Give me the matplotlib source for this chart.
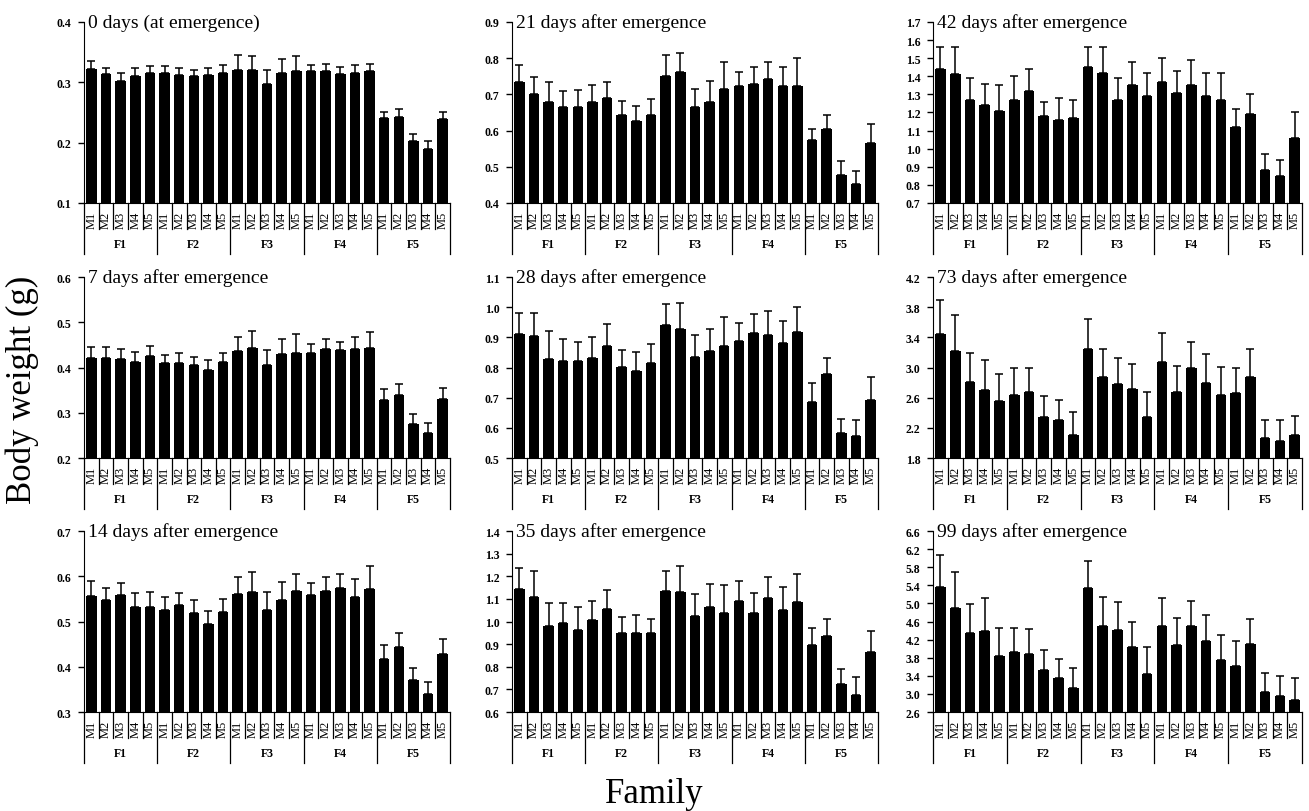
import numpy as np
import matplotlib
matplotlib.use('Agg')
import matplotlib.pyplot as plt
import matplotlib.transforms as mtransforms

plt.rcParams['font.family'] = ['Liberation Serif', 'DejaVu Serif']

families = ['F1', 'F2', 'F3', 'F4', 'F5']
males = ['M1', 'M2', 'M3', 'M4', 'M5']

# mean body weight (g) and top of error bar, 5 males x 5 families (F1..F5)
mean_d0 = [0.322, 0.313, 0.302, 0.311, 0.315, 0.316, 0.312, 0.311, 0.312, 0.316,
           0.320, 0.321, 0.297, 0.315, 0.318, 0.319, 0.318, 0.313, 0.315, 0.318,
           0.241, 0.242, 0.202, 0.189, 0.240]
top_d0 = [0.335, 0.323, 0.315, 0.323, 0.327, 0.327, 0.324, 0.320, 0.324, 0.328,
          0.345, 0.343, 0.320, 0.339, 0.343, 0.329, 0.330, 0.325, 0.328, 0.331,
          0.251, 0.255, 0.215, 0.203, 0.251]

mean_d7 = [0.422, 0.422, 0.419, 0.412, 0.426, 0.410, 0.411, 0.405, 0.395, 0.412,
           0.436, 0.443, 0.405, 0.429, 0.431, 0.431, 0.442, 0.438, 0.440, 0.444,
           0.329, 0.340, 0.276, 0.255, 0.331]
top_d7 = [0.446, 0.446, 0.441, 0.435, 0.448, 0.428, 0.433, 0.424, 0.417, 0.432,
          0.467, 0.480, 0.439, 0.463, 0.473, 0.451, 0.462, 0.457, 0.467, 0.479,
          0.352, 0.363, 0.298, 0.277, 0.354]

mean_d14 = [0.556, 0.548, 0.558, 0.531, 0.533, 0.526, 0.536, 0.519, 0.495, 0.520,
            0.560, 0.565, 0.526, 0.547, 0.568, 0.558, 0.567, 0.575, 0.555, 0.572,
            0.418, 0.444, 0.370, 0.339, 0.429]
top_d14 = [0.589, 0.574, 0.585, 0.563, 0.566, 0.555, 0.563, 0.548, 0.524, 0.549,
           0.598, 0.610, 0.566, 0.588, 0.605, 0.586, 0.598, 0.604, 0.595, 0.622,
           0.448, 0.474, 0.397, 0.367, 0.462]

mean_d21 = [0.733, 0.702, 0.678, 0.664, 0.665, 0.680, 0.690, 0.643, 0.627, 0.643,
            0.752, 0.761, 0.664, 0.680, 0.716, 0.722, 0.729, 0.743, 0.722, 0.723,
            0.573, 0.605, 0.477, 0.452, 0.566]
top_d21 = [0.780, 0.748, 0.735, 0.708, 0.712, 0.726, 0.733, 0.683, 0.667, 0.686,
           0.808, 0.813, 0.716, 0.736, 0.789, 0.761, 0.777, 0.789, 0.777, 0.800,
           0.605, 0.644, 0.516, 0.488, 0.618]

mean_d28 = [0.910, 0.905, 0.828, 0.823, 0.823, 0.833, 0.873, 0.802, 0.790, 0.815,
            0.940, 0.928, 0.835, 0.854, 0.871, 0.888, 0.913, 0.907, 0.880, 0.918,
            0.687, 0.777, 0.584, 0.574, 0.694]
top_d28 = [0.980, 0.980, 0.920, 0.895, 0.885, 0.900, 0.943, 0.857, 0.850, 0.877,
           1.012, 1.013, 0.909, 0.927, 0.967, 0.946, 0.977, 0.988, 0.955, 1.000,
           0.750, 0.830, 0.630, 0.627, 0.769]

mean_d35 = [1.143, 1.110, 0.981, 0.995, 0.963, 1.006, 1.057, 0.948, 0.948, 0.951,
            1.133, 1.131, 1.026, 1.062, 1.037, 1.090, 1.036, 1.106, 1.053, 1.087,
            0.895, 0.934, 0.722, 0.677, 0.864]
top_d35 = [1.237, 1.222, 1.081, 1.082, 1.066, 1.092, 1.138, 1.019, 1.027, 1.013,
           1.222, 1.247, 1.120, 1.164, 1.160, 1.177, 1.125, 1.196, 1.151, 1.212,
           0.972, 1.011, 0.790, 0.754, 0.958]

mean_d42 = [1.44, 1.41, 1.27, 1.24, 1.21, 1.27, 1.32, 1.18, 1.16, 1.17,
            1.45, 1.42, 1.27, 1.35, 1.29, 1.37, 1.31, 1.35, 1.29, 1.27,
            1.12, 1.19, 0.88, 0.85, 1.06]
top_d42 = [1.56, 1.56, 1.39, 1.36, 1.35, 1.40, 1.44, 1.26, 1.28, 1.27,
           1.56, 1.56, 1.39, 1.48, 1.42, 1.50, 1.43, 1.49, 1.42, 1.42,
           1.22, 1.30, 0.97, 0.94, 1.20]

mean_d73 = [3.44, 3.22, 2.81, 2.70, 2.56, 2.63, 2.67, 2.34, 2.30, 2.11,
            3.25, 2.87, 2.78, 2.71, 2.35, 3.07, 2.67, 3.00, 2.80, 2.63,
            2.66, 2.88, 2.06, 2.02, 2.10]
top_d73 = [3.90, 3.69, 3.19, 3.10, 2.91, 3.00, 3.00, 2.62, 2.57, 2.41,
           3.64, 3.25, 3.12, 3.05, 2.68, 3.46, 3.02, 3.34, 3.18, 3.01,
           3.00, 3.24, 2.30, 2.31, 2.36]

mean_d99 = [5.36, 4.90, 4.34, 4.38, 3.84, 3.93, 3.88, 3.53, 3.36, 3.12,
            5.33, 4.49, 4.41, 4.03, 3.43, 4.51, 4.09, 4.49, 4.17, 3.76,
            3.61, 4.10, 3.05, 2.96, 2.86]
top_d99 = [6.08, 5.69, 4.99, 5.11, 4.45, 4.46, 4.43, 3.97, 3.78, 3.58,
           5.93, 5.14, 5.03, 4.60, 4.03, 5.13, 4.68, 5.05, 4.74, 4.31,
           4.17, 4.66, 3.47, 3.39, 3.36]

titles = ['0 days (at emergence)', '21 days after emergence', '42 days after emergence',
          '7 days after emergence', '28 days after emergence', '73 days after emergence',
          '14 days after emergence', '35 days after emergence', '99 days after emergence']
means = [mean_d0, mean_d21, mean_d42, mean_d7, mean_d28, mean_d73, mean_d14, mean_d35, mean_d99]
tops = [top_d0, top_d21, top_d42, top_d7, top_d28, top_d73, top_d14, top_d35, top_d99]
# y range (min, max, tick step)
yranges = [(0.1, 0.4, 0.1), (0.4, 0.9, 0.1), (0.7, 1.7, 0.1),
           (0.2, 0.6, 0.1), (0.5, 1.1, 0.1), (1.8, 4.2, 0.4),
           (0.3, 0.7, 0.1), (0.6, 1.4, 0.1), (2.6, 6.6, 0.4)]

fig = plt.figure(figsize=(13.09, 8.12), dpi=100)
lefts = [0.0642, 0.3911, 0.7128]
widths = [0.2796, 0.2796, 0.2819]
bottoms = [0.7488, 0.4347, 0.1219]
height = 0.2229

for k in range(9):
    r, c = divmod(k, 3)
    ax = fig.add_axes([lefts[c], bottoms[r], widths[c], height])
    m = np.array(means[k])
    t = np.array(tops[k])
    x = np.arange(len(m))
    ax.bar(x, m, width=0.72, color='black')
    ax.errorbar(x, m, yerr=[np.zeros_like(m), t - m], fmt='none', ecolor='black',
                elinewidth=1.1, capsize=3, capthick=1.1)

    lo, hi, step = yranges[k]
    ax.set_ylim(lo, hi)
    ax.set_xlim(-0.5, len(m) - 0.5)
    ticks = np.arange(lo, hi + step / 2, step)
    ax.set_yticks(ticks)
    ax.set_yticklabels(['%.1f' % v for v in ticks], fontweight='bold')
    ax.tick_params(axis='y', direction='out', length=4, width=1, labelsize=8.5, pad=5)
    ax.set_xticks([])
    ax.spines['top'].set_visible(False)
    ax.spines['right'].set_visible(False)

    ax.text(0.012, 1.0, titles[k], transform=ax.transAxes, ha='left', va='center', fontsize=14)

    # two-level category axis: males inside families
    trans = mtransforms.blended_transform_factory(ax.transData, ax.transAxes)
    for i in x:
        ax.text(i, -0.09, males[i % 5], rotation=90, ha='center', va='center',
                fontsize=9, transform=trans)
    for b in np.arange(-0.5, len(m), 1.0):
        group = round(b + 0.5) % 5 == 0
        ax.plot([b, b], [0, -0.28 if group else -0.145], color='black', lw=0.9,
                transform=trans, clip_on=False)
    for g, fam in enumerate(families):
        ax.text(g * 5 + 2, -0.225, fam, ha='center', va='center', fontsize=8.5,
                fontweight='bold', transform=trans)

fig.text(0.017, 0.52, 'Body weight (g)', rotation=90, ha='center', va='center', fontsize=25)
fig.text(0.5, 0.021, 'Family', ha='center', va='center', fontsize=25)

fig.savefig('out.png', dpi=100)
